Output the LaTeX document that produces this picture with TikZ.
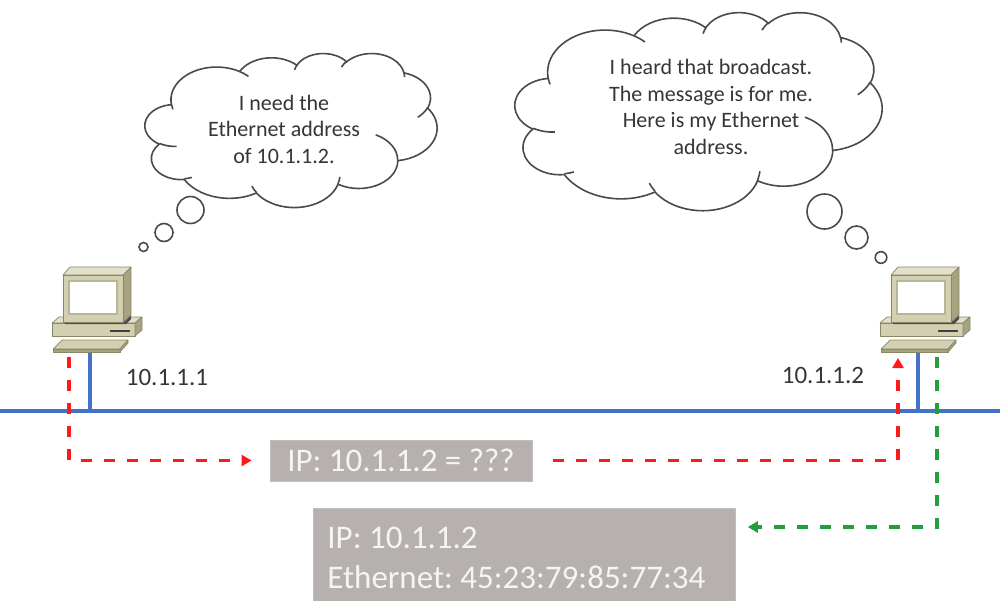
\documentclass[tikz,border=0pt]{standalone}
\usepackage{fontspec}
\setmainfont{Carlito}
\frenchspacing
\usetikzlibrary{arrows.meta}

\definecolor{bus}{HTML}{4472C4}
\definecolor{reqred}{HTML}{FF1A1A}
\definecolor{repgreen}{HTML}{1FA03A}
\definecolor{msgbox}{HTML}{B6B1AE}
\definecolor{inktext}{HTML}{363636}
\definecolor{cloudline}{HTML}{4A4A4A}
\definecolor{pcfront}{HTML}{D3D0B2}
\definecolor{pctop}{HTML}{E2E0CB}
\definecolor{pcside}{HTML}{A7A381}
\definecolor{pcedge}{HTML}{8A8767}
\definecolor{pcscreen}{HTML}{B9B698}

% One elliptic arc given by radii, start angle and sweep (true angles, y downwards)
\newcommand\ooarc[4]{arc[x radius=#1pt, y radius=#2pt,
  start angle={atan2(#1*sin(#3),#2*cos(#3))},
  delta angle={mod(atan2(#1*sin(#3+#4),#2*cos(#3+#4))-atan2(#1*sin(#3),#2*cos(#3))+720,360)}]}

% Cloud outline on a 432 x 432 grid
\newcommand\cloudoutline{(39.00,143.70)
  \ooarc{67.53}{91.90}{-190.4875}{123.7805}
  \ooarc{53.33}{72.67}{-144.1024}{89.9452}
  \ooarc{43.65}{59.45}{-145.8079}{99.7230}
  \ooarc{48.57}{65.95}{-130.9861}{117.2417}
  \ooarc{53.33}{72.73}{-78.7089}{109.0269}
  \ooarc{67.75}{92.20}{-46.2673}{130.2690}
  \ooarc{57.85}{78.67}{0.6250}{114.0333}
  \ooarc{67.52}{92.15}{22.4516}{115.1726}
  \ooarc{77.20}{105.43}{66.2426}{75.7110}
  \ooarc{43.60}{59.18}{-274.9421}{146.7356}
  \ooarc{43.45}{59.45}{-246.8285}{152.5189} -- cycle}

% Short inner strokes where the puffs meet
\newcommand\cloudcreases{
  (46.93,261.77) \ooarc{43.45}{59.45}{86.7420}{26.4295}
  (69.28,348.99) \ooarc{43.60}{59.18}{73.6105}{11.4475}
  (164.78,390.90) \ooarc{67.52}{92.15}{137.6242}{14.0811}
  (288.27,347.51) \ooarc{67.52}{92.15}{6.4533}{15.9984}
  (341.29,229.54) \ooarc{57.85}{78.67}{-70.2924}{70.9174}
  (417.98,153.54) \ooarc{53.33}{72.73}{30.3180}{27.7515}
  (383.24,54.26) \ooarc{48.57}{65.95}{-13.7443}{14.8589}
  (290.78,39.52) \ooarc{48.57}{65.95}{-149.1815}{18.1954}
  (221.41,47.20) \ooarc{43.65}{59.45}{-163.4943}{17.6864}
  (140.00,51.92) \ooarc{67.53}{91.90}{-66.7070}{12.3194}
  (41.27,157.89) \ooarc{67.53}{91.90}{157.6544}{11.8582}}

% Cloud placed in the box with top-left corner (#1,#2), width #3, height #4
\newcommand\thoughtcloud[4]{%
  \begin{scope}[shift={(#1,#2)}, y=1pt, xscale=#3/432, yscale=-#4/432]
    \filldraw[cloudstroke, fill=white] \cloudoutline;
    \draw[cloudstroke] \cloudcreases;
  \end{scope}}

\tikzset{
  cloudstroke/.style={draw=cloudline, line width=1.6pt},
  bubble/.style={draw=cloudline, line width=1.6pt, fill=white},
  thought/.style={text=inktext, align=center, inner sep=0pt,
    font=\fontsize{22}{26.5}\selectfont},
  addr/.style={text=inktext, inner sep=0pt, font=\fontsize{25}{30}\selectfont},
  busline/.style={draw=bus, line width=3.4pt},
  dropline/.style={draw=bus, line width=3.2pt},
  req/.style={draw=reqred, line width=3.2pt, dash pattern=on 11pt off 12pt,
    -{Triangle[length=10pt,width=11pt]}},
  rep/.style={draw=repgreen, line width=3.2pt, dash pattern=on 11pt off 12pt,
    -{Triangle[length=10pt,width=11pt]}},
  msg/.style={fill=msgbox, draw=msgbox!85!white, line width=0.8pt,
    text=white!96!black, inner sep=0pt, font=\fontsize{33}{40}\selectfont},
  pcpart/.style={draw=pcedge, line width=0.7pt, line join=round},
  pics/workstation/.style={code={
    % keyboard
    \filldraw[pcpart, fill=pcfront] (-37,-3) -- (-28,-12) -- (38,-12) -- (30,-3) -- cycle;
    \filldraw[pcpart, fill=pcside] (-37,-3) -- (30,-3) -- (30,0) -- (-37,0) -- cycle;
    \filldraw[pcpart, fill=pcside] (30,-3) -- (38,-12) -- (38,-9) -- (30,0) -- cycle;
    % system unit
    \filldraw[pcpart, fill=pctop] (-38,-29) -- (-31,-35) -- (52,-35) -- (45,-29) -- cycle;
    \filldraw[pcpart, fill=pcfront] (-38,-29) rectangle (45,-16);
    \filldraw[pcpart, fill=pcside] (45,-29) -- (52,-35) -- (52,-22) -- (45,-16) -- cycle;
    \draw[line width=1.6pt, black!75] (20,-21) -- (40,-21);
    % monitor
    \fill[black!70] (-25,-31) -- (35,-31) -- (41,-37) -- (41,-33) -- (36,-28) -- (-25,-28) -- cycle;
    \filldraw[pcpart, fill=pctop] (-27,-77) -- (-20,-85) -- (41,-85) -- (33,-77) -- cycle;
    \filldraw[pcpart, fill=pcside] (33,-77) -- (41,-85) -- (41,-37) -- (33,-30) -- cycle;
    \filldraw[pcpart, fill=pcfront] (-27,-77) rectangle (33,-30);
    \fill[pcscreen] (-22,-72) rectangle (28,-37);
    \fill[white] (-20,-70) rectangle (26,-39);
  }}
}

\begin{document}
\begin{tikzpicture}[x=1pt, y=-1pt]
  \useasboundingbox (0,0) rectangle (1000,600);

  % thought clouds and their trailing bubbles
  \thoughtcloud{145}{53}{292}{154}
  \thoughtcloud{515}{12}{367}{198}
  \draw[bubble] (190.5,210) circle[radius=13.5pt];
  \draw[bubble] (164,232.5) circle[radius=9pt];
  \draw[bubble] (143.5,247) circle[radius=4.5pt];
  \draw[bubble] (824.5,211.5) circle[radius=17.5pt];
  \draw[bubble] (856.5,237.5) circle[radius=11.5pt];
  \draw[bubble] (881,257.5) circle[radius=5.8pt];

  \node[thought] (askT) at (284,129) {I need the\\Ethernet address\\of 10.1.1.2.};
  \node[thought] (ansT) at (711,107) {I heard that broadcast.\\The message is for me.\\Here is my Ethernet\\address.};

  % shared Ethernet segment
  \coordinate (busW) at (0,411);
  \coordinate (busE) at (1000,411);
  \draw[busline] (busW) -- (busE);

  % hosts
  \coordinate (hostA) at (90,352);
  \coordinate (hostB) at (918,352);
  \draw[dropline] (hostA) -- (hostA |- busW);
  \draw[dropline] (hostB) -- (hostB |- busW);
  \pic at (hostA) {workstation};
  \pic at (hostB) {workstation};

  \node[addr] (ipA) at (167,377) {10.1.1.1};
  \node[addr] (ipB) at (823,375) {10.1.1.2};

  % ARP request and reply
  \node[msg, minimum width=262pt, minimum height=41pt] (ask) at (401,460.5) {IP: 10.1.1.2 = ???};
  \node[msg, anchor=north west, minimum width=422pt, minimum height=100pt,
        text width=394pt, align=flush left] (reply) at (313,508)
        {IP: 10.1.1.2\\Ethernet: 45:23:79:85:77:34};

  \coordinate (reqA) at (69,357);
  \coordinate (reqB) at (898,358);
  \coordinate (repB) at (937,357);
  \draw[req, shorten >=18pt] (reqA) |- (ask.west);
  \draw[req, shorten <=21pt] (ask.east) -| (reqB);
  \draw[rep] (repB) |- ([shift={(12,19)}]reply.north east);
\end{tikzpicture}
\end{document}
